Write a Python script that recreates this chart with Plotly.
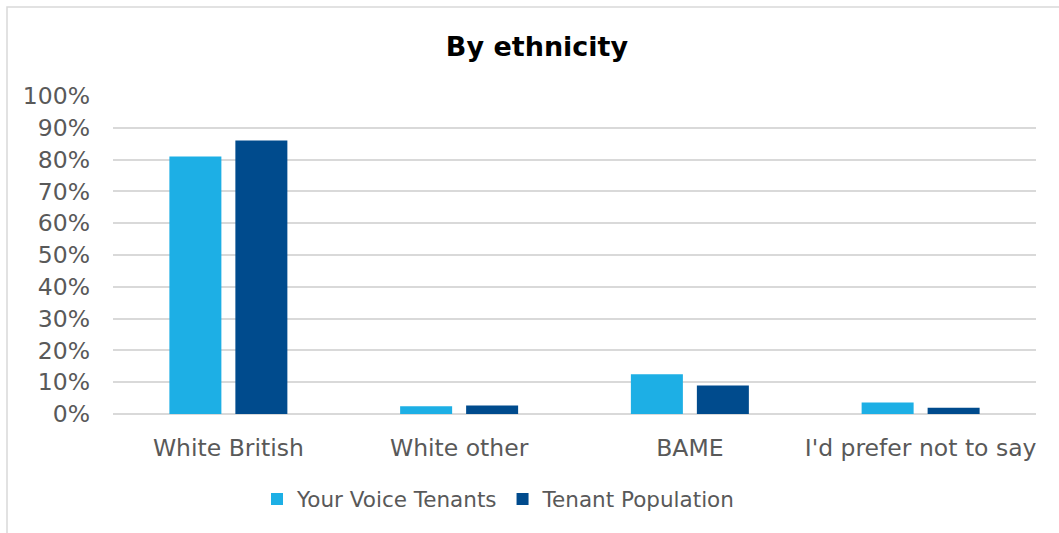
import plotly.graph_objects as go

categories = ["White British", "White other", "BAME", "I'd prefer not to say"]
your_voice = [0.81, 0.024, 0.125, 0.036]
tenant_pop = [0.86, 0.027, 0.09, 0.02]
y_ticks = [i / 10 for i in range(11)]
y_tick_labels = [f"{i * 10}%" for i in range(11)]

W, H = 1059, 533
L, R, T, B = 113, 23, 96, 119
pw, ph = W - L - R, H - T - B

FONT = "DejaVu Sans"

fig = go.Figure()
fig.add_trace(go.Bar(name="Your Voice Tenants", x=categories, y=your_voice,
                     marker=dict(color="#1DAFE5", line=dict(width=0))))
fig.add_trace(go.Bar(name="Tenant Population", x=categories, y=tenant_pop,
                     marker=dict(color="#004B8D", line=dict(width=0))))

# light grey frame around the chart area
fig.add_shape(type="rect", xref="paper", yref="paper",
              x0=(7 - L) / pw, x1=(W + 10 - L) / pw,
              y0=-(H + 10 - T - ph) / ph, y1=(H - B - 7) / ph,
              line=dict(color="#D9D9D9", width=1.5), layer="below")

fig.update_layout(
    width=W, height=H,
    margin=dict(l=L, r=R, t=T, b=B, autoexpand=False),
    paper_bgcolor="white", plot_bgcolor="white",
    barmode="group", bargap=0.428, bargroupgap=0.212,
    font=dict(family=FONT, color="#595959", size=23.5),
    title=dict(text="<b>By ethnicity</b>", x=(537 - L) / pw, xref="paper", xanchor="center",
               y=1 - 47 / H, yanchor="middle",
               font=dict(family=FONT, size=27, color="#000000")),
    showlegend=True,
    legend=dict(orientation="h", x=(257 - L) / pw, xanchor="left", xref="paper",
                y=-(499 - 414) / ph, yanchor="middle",
                font=dict(family=FONT, size=21.5, color="#595959"),
                itemwidth=30, tracegroupgap=0),
    yaxis=dict(range=[0, 1], tickvals=y_ticks, ticktext=y_tick_labels,
               showgrid=True, gridcolor="#D9D9D9", gridwidth=2,
               zeroline=True, zerolinecolor="#D9D9D9", zerolinewidth=2,
               ticks="", ticklabelstandoff=22, fixedrange=True),
    xaxis=dict(showline=False, ticks="", ticklabelstandoff=17),
)

fig.write_html("out.html")
